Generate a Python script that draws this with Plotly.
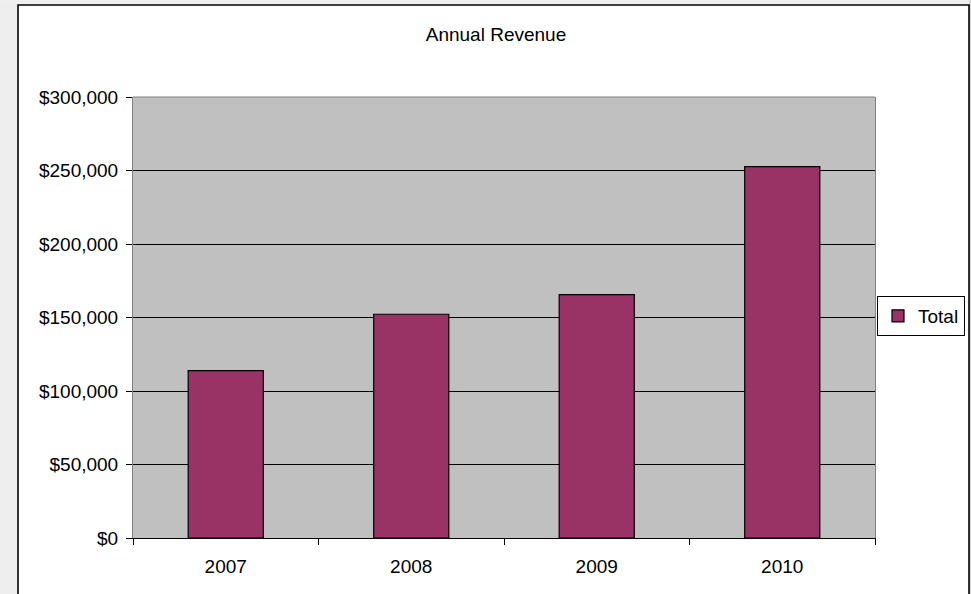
import plotly.graph_objects as go

years = ["2007", "2008", "2009", "2010"]
revenue = [113800, 152200, 165600, 252600]
y_ticks = [0, 50000, 100000, 150000, 200000, 250000, 300000]
y_tick_labels = ["$0", "$50,000", "$100,000", "$150,000", "$200,000", "$250,000", "$300,000"]

W, H = 971, 594
L, R, T, B = 133, 96, 97, 56
pw, ph = W - L - R, H - T - B

def px_x(x):
    return (x - L) / pw

def px_y(y):
    return (H - B - y) / ph

font = dict(family="Liberation Sans, Arial, sans-serif", size=19, color="#000000")

fig = go.Figure()
fig.add_trace(go.Bar(
    x=years, y=revenue, name="Total",
    marker=dict(color="#993366", line=dict(color="#000000", width=1.2)),
))

shapes = [
    # left worksheet strip
    dict(type="rect", xref="paper", yref="paper", x0=px_x(-2), x1=px_x(17), y0=px_y(H + 5), y1=px_y(-5),
         fillcolor="#eeeeee", line=dict(width=0), layer="below"),
    # top strip
    dict(type="rect", xref="paper", yref="paper", x0=px_x(-2), x1=px_x(W + 2), y0=px_y(4), y1=px_y(-5),
         fillcolor="#efefef", line=dict(width=0), layer="below"),
    # right strip
    dict(type="rect", xref="paper", yref="paper", x0=px_x(969), x1=px_x(W + 2), y0=px_y(H + 5), y1=px_y(-5),
         fillcolor="#d8d8d8", line=dict(width=0), layer="below"),
    # chart area border
    dict(type="rect", xref="paper", yref="paper", x0=px_x(18), x1=px_x(969), y0=px_y(H + 10), y1=px_y(5),
         fillcolor="rgba(0,0,0,0)", line=dict(color="#000000", width=1.6), layer="below"),
    # top border of plot area
    dict(type="line", xref="paper", yref="paper", x0=0, x1=1, y0=1, y1=1,
         line=dict(color="#808080", width=1), layer="above"),
]

fig.update_layout(
    width=W, height=H,
    margin=dict(l=L, r=R, t=T, b=B, autoexpand=False),
    paper_bgcolor="#ffffff",
    plot_bgcolor="#c0c0c0",
    font=font,
    title=dict(text="Annual Revenue", x=px_x(496), xanchor="center", y=1 - 34 / H, yanchor="middle",
               yref="container", xref="paper", font=dict(size=19)),
    bargap=0.595,
    showlegend=True,
    legend=dict(x=px_x(877), xanchor="left", y=px_y(316), yanchor="middle",
                bordercolor="#000000", borderwidth=1, bgcolor="#ffffff",
                font=dict(size=19), itemwidth=30),
    shapes=shapes,
)
fig.update_xaxes(
    type="category", showline=True, linecolor="#000000", linewidth=1,
    ticks="outside", ticklen=6, tickcolor="#000000", tickson="boundaries",
    showgrid=False, ticklabelstandoff=11,
)
fig.update_yaxes(
    range=[0, 300000], tickmode="array", tickvals=y_ticks, ticktext=y_tick_labels,
    showline=True, linecolor="#808080", linewidth=1, mirror=True,
    ticks="outside", ticklen=6, tickcolor="#000000",
    showgrid=True, gridcolor="#000000", gridwidth=1, zeroline=False,
    ticklabelstandoff=4,
)

fig.write_html(
    "out.html",
    config={"displayModeBar": False},
    post_script="document.body.style.margin='0';document.body.style.overflow='hidden';",
)
